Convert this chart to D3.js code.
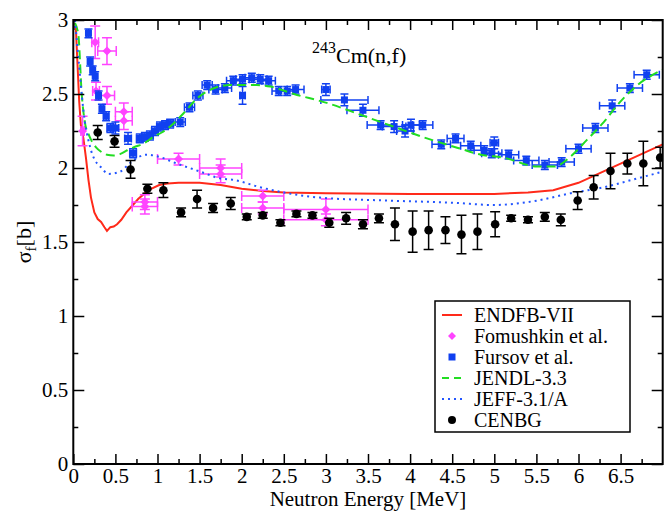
<!DOCTYPE html>
<html>
<head>
<meta charset="utf-8">
<script src="https://cdn.jsdelivr.net/npm/d3@7"></script>
<style>
  body { margin: 0; background: #fff; }
  svg text { font-family: "Liberation Serif", "Times New Roman", serif; fill: #000; }
</style>
</head>
<body>
<div id="chart"></div>
<script>
// ENDFB-VII evaluation (red line)
var endfE = [0.03,0.05,0.07,0.09,0.12,0.15,0.18,0.21,0.25,0.29,0.33,0.37,0.40,0.44,0.48,0.52,0.57,0.63,0.70,0.77,0.85,0.93,1.02,1.12,1.25,1.5,1.75,2.0,2.25,2.5,3.0,4.0,5.0,5.4,5.7,6.0,6.5,7.0];
var endfS = [2.95,2.70,2.45,2.29,2.20,2.07,1.92,1.80,1.70,1.655,1.635,1.60,1.575,1.60,1.605,1.62,1.65,1.70,1.745,1.79,1.83,1.86,1.885,1.895,1.90,1.90,1.885,1.86,1.845,1.835,1.83,1.825,1.825,1.835,1.85,1.90,2.03,2.16];

// JENDL-3.3 (green dashed)
var jendlE = [0.02,0.06,0.10,0.14,0.18,0.22,0.27,0.33,0.40,0.48,0.56,0.64,0.72,0.85,0.95,1.05,1.15,1.31,1.47,1.63,1.86,2.18,2.34,2.62,3.01,3.41,3.80,4.20,4.60,4.84,5.11,5.51,5.71,5.91,6.10,6.30,6.50,6.70,7.0];
var jendlS = [2.98,2.90,2.50,2.30,2.23,2.18,2.14,2.11,2.09,2.085,2.095,2.12,2.14,2.17,2.21,2.24,2.28,2.37,2.47,2.53,2.56,2.56,2.55,2.50,2.44,2.36,2.28,2.20,2.13,2.09,2.07,2.01,2.01,2.08,2.19,2.31,2.45,2.56,2.665];

// JEFF-3.1/A (blue dotted)
var jeffE = [0.02,0.06,0.12,0.20,0.26,0.32,0.42,0.555,0.63,0.71,0.87,0.99,1.23,1.51,1.74,1.90,2.22,2.54,2.93,3.73,4.52,4.99,5.51,5.91,6.30,6.70,7.0];
var jeffS = [3.0,2.75,2.39,2.14,2.05,2.01,1.96,1.975,2.01,2.05,2.09,2.08,2.03,1.975,1.93,1.92,1.87,1.83,1.80,1.78,1.765,1.75,1.78,1.83,1.87,1.93,1.975];

// Fomushkin et al. (magenta diamonds)
var fomE  = [0.11,0.26,0.40,0.27,0.40,0.60,0.60,0.85,0.85,1.25,1.75,1.75,2.25,2.25,3.00,3.00];
var fomS  = [2.25,2.85,2.79,2.52,2.49,2.38,2.32,1.77,1.74,2.06,2.00,1.96,1.81,1.73,1.72,1.65];
var fomDE = [0.02,0.04,0.11,0.04,0.09,0.10,0.10,0.15,0.15,0.25,0.25,0.25,0.25,0.25,0.50,0.50];
var fomDS = [0.10,0.11,0.09,0.06,0.06,0.06,0.06,0.05,0.05,0.04,0.06,0.06,0.04,0.04,0.07,0.04];

// Fursov et al. (blue squares)
var furE  = [0.18,0.20,0.23,0.26,0.30,0.34,0.39,0.44,0.50,0.65,0.71,0.79,0.85,0.91,0.97,1.03,1.09,1.15,1.27,1.38,1.48,1.59,1.69,1.80,1.90,2.01,2.01,2.12,2.22,2.32,2.44,2.54,2.64,3.00,3.22,3.44,3.65,3.81,3.94,4.01,4.15,4.37,4.54,4.72,4.88,4.97,5.00,5.17,5.38,5.60,5.80,6.00,6.20,6.40,6.61,6.81];
var furS  = [2.91,2.72,2.66,2.62,2.49,2.40,2.35,2.27,2.27,2.20,2.10,2.20,2.21,2.22,2.25,2.28,2.29,2.30,2.31,2.41,2.49,2.56,2.53,2.54,2.59,2.60,2.49,2.61,2.60,2.59,2.52,2.52,2.53,2.53,2.46,2.39,2.29,2.28,2.25,2.29,2.29,2.16,2.20,2.15,2.12,2.10,2.17,2.09,2.05,2.02,2.04,2.13,2.27,2.42,2.54,2.63];
var furDE = [0.02,0.02,0.02,0.02,0.02,0.02,0.03,0.04,0.04,0.04,0.04,0.04,0.04,0.04,0.04,0.04,0.04,0.04,0.06,0.06,0.06,0.06,0.08,0.08,0.08,0.08,0.03,0.08,0.08,0.08,0.08,0.08,0.10,0.05,0.28,0.19,0.16,0.14,0.10,0.10,0.12,0.11,0.10,0.12,0.12,0.12,0.05,0.12,0.15,0.15,0.15,0.15,0.15,0.15,0.15,0.15];
var furDS = [0.03,0.03,0.03,0.03,0.03,0.03,0.03,0.03,0.04,0.04,0.03,0.03,0.03,0.03,0.03,0.03,0.03,0.03,0.03,0.03,0.03,0.03,0.03,0.03,0.03,0.03,0.06,0.03,0.03,0.03,0.03,0.03,0.03,0.04,0.04,0.04,0.03,0.04,0.04,0.04,0.03,0.03,0.03,0.03,0.03,0.03,0.04,0.03,0.03,0.03,0.03,0.03,0.03,0.04,0.03,0.03];

// CENBG (black circles)
var cenE  = [0.29,0.49,0.68,0.88,1.07,1.28,1.47,1.66,1.87,2.06,2.25,2.46,2.65,2.84,3.04,3.24,3.44,3.63,3.82,4.03,4.22,4.42,4.61,4.80,5.01,5.20,5.40,5.60,5.79,5.99,6.18,6.38,6.58,6.77,6.97];
var cenS  = [2.24,2.18,1.99,1.86,1.85,1.70,1.79,1.73,1.76,1.67,1.68,1.63,1.69,1.68,1.63,1.66,1.62,1.66,1.62,1.57,1.58,1.58,1.55,1.57,1.62,1.66,1.65,1.67,1.65,1.78,1.87,1.98,2.03,2.03,2.07];
var cenDS = [0.047,0.04,0.06,0.03,0.05,0.03,0.06,0.03,0.04,0.02,0.02,0.02,0.02,0.02,0.03,0.04,0.03,0.03,0.11,0.14,0.13,0.09,0.13,0.12,0.085,0.02,0.02,0.03,0.04,0.06,0.08,0.12,0.07,0.15,0.07];

var xTicks = [0,0.5,1,1.5,2,2.5,3,3.5,4,4.5,5,5.5,6,6.5];
var yTicks = [0,0.5,1,1.5,2,2.5,3];

var svgWidth = 670, svgHeight = 511;
var margin = {top: 20, right: 7.3, bottom: 47, left: 73.3};
var width = svgWidth - margin.left - margin.right;
var height = svgHeight - margin.top - margin.bottom;
var serif = "Liberation Serif, Times New Roman, serif";

var svg = d3.select("#chart").append("svg")
    .attr("width", svgWidth)
    .attr("height", svgHeight)
    .attr("font-family", serif);

var chartGroup = svg.append("g")
    .attr("transform", `translate(${margin.left},${margin.top})`);

var xScale = d3.scaleLinear().domain([0, 7]).range([0, width]);
var yScale = d3.scaleLinear().domain([0, 3]).range([height, 0]);

chartGroup.append("clipPath").attr("id", "clip")
    .append("rect").attr("width", width).attr("height", height);

var plot = chartGroup.append("g").attr("clip-path", "url(#clip)");

var red = "#ff2a1a", magenta = "#ff44ff", blue = "#1040f0", green = "#22dd22", dotBlue = "#2255ff";

var line = d3.line().x(d => xScale(d[0])).y(d => yScale(d[1]));

// ENDFB-VII
plot.append("path")
    .datum(d3.zip(endfE, endfS))
    .attr("d", line)
    .attr("fill", "none").attr("stroke", red).attr("stroke-width", 2);

// error bar helper
function errorBars(g, xs, ys, dxs, dys, color, cap) {
    xs.forEach(function(e, i) {
        var cx = xScale(e), cy = yScale(ys[i]);
        var grp = g.append("g").attr("stroke", color).attr("stroke-width", 1.5).attr("fill", "none");
        if (dys && dys[i] > 0) {
            var y0 = yScale(ys[i] - dys[i]), y1 = yScale(ys[i] + dys[i]);
            grp.append("line").attr("x1", cx).attr("x2", cx).attr("y1", y0).attr("y2", y1);
            grp.append("line").attr("x1", cx - cap).attr("x2", cx + cap).attr("y1", y0).attr("y2", y0);
            grp.append("line").attr("x1", cx - cap).attr("x2", cx + cap).attr("y1", y1).attr("y2", y1);
        }
        if (dxs && dxs[i] > 0) {
            var x0 = xScale(e - dxs[i]), x1 = xScale(e + dxs[i]);
            grp.append("line").attr("x1", x0).attr("x2", x1).attr("y1", cy).attr("y2", cy);
            grp.append("line").attr("x1", x0).attr("x2", x0).attr("y1", cy - cap).attr("y2", cy + cap);
            grp.append("line").attr("x1", x1).attr("x2", x1).attr("y1", cy - cap).attr("y2", cy + cap);
        }
    });
}

// Fomushkin
var fomG = plot.append("g");
errorBars(fomG, fomE, fomS, fomDE, fomDS, magenta, 5);
fomG.selectAll("path.dia")
    .data(d3.zip(fomE, fomS))
    .enter().append("path")
    .attr("d", "M0,-4.5L4.5,0L0,4.5L-4.5,0Z")
    .attr("transform", d => `translate(${xScale(d[0])},${yScale(d[1])})`)
    .attr("fill", magenta);

// Fursov
var furG = plot.append("g");
errorBars(furG, furE, furS, furDE, furDS, blue, 4);
furG.selectAll("rect.sq")
    .data(d3.zip(furE, furS))
    .enter().append("rect")
    .attr("x", d => xScale(d[0]) - 3.5)
    .attr("y", d => yScale(d[1]) - 3.5)
    .attr("width", 7).attr("height", 7)
    .attr("fill", blue);

// JENDL-3.3
plot.append("path")
    .datum(d3.zip(jendlE, jendlS))
    .attr("d", line.curve(d3.curveMonotoneX))
    .attr("fill", "none").attr("stroke", green).attr("stroke-width", 2)
    .attr("stroke-dasharray", "9,5");

// JEFF-3.1/A
plot.append("path")
    .datum(d3.zip(jeffE, jeffS))
    .attr("d", line.curve(d3.curveMonotoneX))
    .attr("fill", "none").attr("stroke", dotBlue).attr("stroke-width", 2)
    .attr("stroke-dasharray", "2,4");

// CENBG
var cenG = plot.append("g");
errorBars(cenG, cenE, cenS, null, cenDS, "#000", 5);
cenG.selectAll("circle")
    .data(d3.zip(cenE, cenS))
    .enter().append("circle")
    .attr("cx", d => xScale(d[0]))
    .attr("cy", d => yScale(d[1]))
    .attr("r", 4.3)
    .attr("fill", "#000");

// axes: ticks inside on all four sides
var xMinor = d3.range(0.25, 7, 0.5);
var yMinor = d3.range(0.25, 3, 0.5);

var bottomAxis = d3.axisBottom(xScale).tickValues(xTicks).tickSize(-10).tickPadding(4).tickFormat(d3.format("~g"));
var bottomMinor = d3.axisBottom(xScale).tickValues(xMinor).tickSize(-5).tickFormat("");
var topAxis = d3.axisTop(xScale).tickValues(xTicks).tickSize(-10).tickFormat("");
var topMinor = d3.axisTop(xScale).tickValues(xMinor).tickSize(-5).tickFormat("");
var leftAxis = d3.axisLeft(yScale).tickValues(yTicks).tickSize(-11).tickPadding(5).tickFormat(d3.format("~g"));
var leftMinor = d3.axisLeft(yScale).tickValues(yMinor).tickSize(-5).tickFormat("");
var rightAxis = d3.axisRight(yScale).tickValues(yTicks).tickSize(-11).tickFormat("");
var rightMinor = d3.axisRight(yScale).tickValues(yMinor).tickSize(-5).tickFormat("");

function styleAxis(g) {
    g.attr("font-family", serif).attr("font-size", 21);
    g.select(".domain").remove();
    g.selectAll(".tick line").attr("stroke", "#000").attr("stroke-width", 1.5);
    g.selectAll(".tick text").attr("fill", "#000");
}

chartGroup.append("g").attr("transform", `translate(0,${height})`).call(bottomAxis).call(styleAxis);
chartGroup.append("g").attr("transform", `translate(0,${height})`).call(bottomMinor).call(styleAxis);
chartGroup.append("g").call(topAxis).call(styleAxis);
chartGroup.append("g").call(topMinor).call(styleAxis);
chartGroup.append("g").call(leftAxis).call(styleAxis);
chartGroup.append("g").call(leftMinor).call(styleAxis);
chartGroup.append("g").attr("transform", `translate(${width},0)`).call(rightAxis).call(styleAxis);
chartGroup.append("g").attr("transform", `translate(${width},0)`).call(rightMinor).call(styleAxis);

// frame
chartGroup.append("rect")
    .attr("width", width).attr("height", height)
    .attr("fill", "none").attr("stroke", "#000").attr("stroke-width", 2);

// axis titles
svg.append("text")
    .attr("x", margin.left + width / 2)
    .attr("y", 506)
    .attr("text-anchor", "middle")
    .attr("font-size", 21)
    .text("Neutron Energy [MeV]");

var yTitle = svg.append("text")
    .attr("transform", `translate(31,${margin.top + height / 2}) rotate(-90)`)
    .attr("text-anchor", "middle")
    .attr("font-size", 22);
yTitle.append("tspan").text("σ");
yTitle.append("tspan").attr("dy", 5).attr("font-size", 15).text("f");
yTitle.append("tspan").attr("dy", -5).text("[b]");

// reaction label
var title = svg.append("text")
    .attr("x", 312).attr("y", 63)
    .attr("font-size", 22);
title.append("tspan").attr("dy", -10).attr("font-size", 16).text("243");
title.append("tspan").attr("dy", 10).text("Cm(n,f)");

// legend
var legendNames = ["ENDFB-VII", "Fomushkin et al.", "Fursov et al.", "JENDL-3.3", "JEFF-3.1/A", "CENBG"];
var legend = svg.append("g").attr("transform", "translate(435,301)");
legend.append("rect")
    .attr("width", 195).attr("height", 131)
    .attr("fill", "#fff").attr("stroke", "#000").attr("stroke-width", 1.5);

legendNames.forEach(function(name, i) {
    var y = 14 + i * 21;
    var sx = 17;
    if (i === 0) {
        legend.append("line").attr("x1", 7).attr("x2", 27).attr("y1", y).attr("y2", y)
            .attr("stroke", red).attr("stroke-width", 2);
    } else if (i === 1) {
        legend.append("path").attr("d", "M0,-4L4,0L0,4L-4,0Z")
            .attr("transform", `translate(${sx},${y})`).attr("fill", magenta);
    } else if (i === 2) {
        legend.append("rect").attr("x", sx - 3.5).attr("y", y - 3.5).attr("width", 7).attr("height", 7).attr("fill", blue);
    } else if (i === 3) {
        legend.append("line").attr("x1", 7).attr("x2", 27).attr("y1", y).attr("y2", y)
            .attr("stroke", green).attr("stroke-width", 2).attr("stroke-dasharray", "7,5");
    } else if (i === 4) {
        legend.append("line").attr("x1", 7).attr("x2", 27).attr("y1", y).attr("y2", y)
            .attr("stroke", dotBlue).attr("stroke-width", 2).attr("stroke-dasharray", "2,4");
    } else {
        legend.append("circle").attr("cx", sx).attr("cy", y).attr("r", 4).attr("fill", "#000");
    }
    legend.append("text")
        .attr("x", 39).attr("y", y + 7)
        .attr("font-size", 20)
        .text(name);
});
</script>
</body>
</html>
